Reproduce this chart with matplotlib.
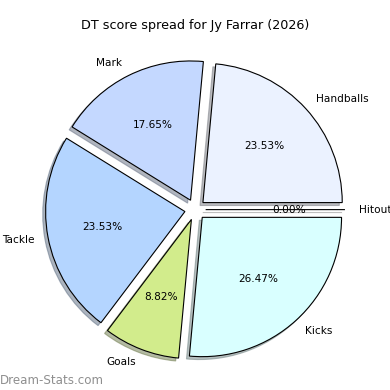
import matplotlib
matplotlib.use('Agg')
import matplotlib.pyplot as plt

# DT points per stat type
labels = ['Hitout', 'Handballs', 'Mark', 'Tackle', 'Goals', 'Kicks']
points = [0, 8, 6, 8, 3, 9]
colours = ['#FFFFFF', '#EBF2FF', '#C4D8FF', '#B4D5FF', '#D2EC8C', '#D9FFFF']

player = 'Jy Farrar'
season = 2026

fig = plt.figure(figsize=(3.9, 3.9), dpi=100)
ax = fig.add_axes([0.054, 0.016, 0.893, 0.893])

ax.pie(points, labels=labels, colors=colours, explode=[0.075] * len(points),
       autopct='%1.2f%%', shadow={'ox': -0.015, 'oy': -0.015, 'shade': 0.5},
       startangle=0,
       wedgeprops={'edgecolor': 'black', 'linewidth': 0.8},
       textprops={'fontsize': 7.6})
ax.set_aspect('equal')

fig.text(0.5, 0.935, 'DT score spread for %s (%d)' % (player, season),
         ha='center', va='center', fontsize=9.2)
fig.text(0.0, 0.025, 'Dream-Stats.com', ha='left', va='center',
         fontsize=8.6, color='#8f8f8f')

fig.savefig('out.png', dpi=100)
